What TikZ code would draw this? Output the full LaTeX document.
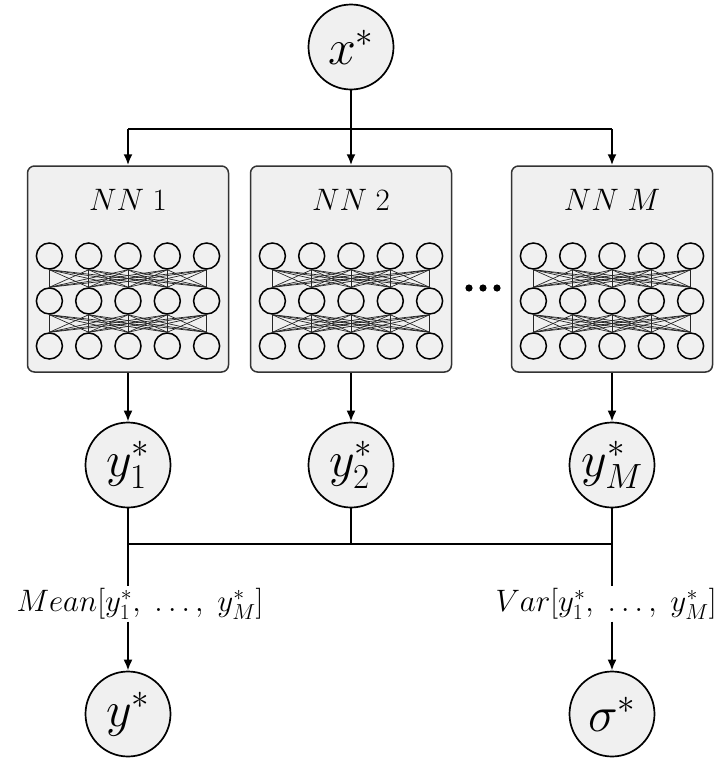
\RequirePackage{fix-cm}
\documentclass[tikz,border=0pt]{standalone}
\usetikzlibrary{arrows.meta}
\definecolor{boxfill}{HTML}{F0F0F0}
\definecolor{boxedge}{HTML}{333333}
\begin{document}
\begin{tikzpicture}[x=1pt,y=-1pt,
  var/.style={circle,draw=black,line width=1.7pt,fill=boxfill,minimum size=85pt,inner sep=0pt,
              font=\fontsize{50}{50}\selectfont},
  netbox/.style={draw=boxedge,line width=1.5pt,fill=boxfill,rounded corners=7pt,
                 minimum width=201pt,minimum height=206pt,inner sep=0pt},
  neuron/.style={circle,draw=black,line width=1.5pt,fill=boxfill,minimum size=26pt,inner sep=0pt},
  link/.style={line width=0.7pt,black!85},
  conn/.style={line width=2pt},
  arr/.style={conn,-{Latex[length=11pt,width=9pt]}},
  lbl/.style={font=\fontsize{31}{31}\selectfont,inner sep=2pt},
  nettitle/.style={font=\fontsize{31}{31}\selectfont,inner sep=0pt}
]
\useasboundingbox (0,0) rectangle (726,758);

% input
\node[var] (x) at (351,47) {$x^*$};

% the ensemble members
\foreach \b/\cx/\t in {1/128/1, 2/351/2, 3/612/M} {
  \node[netbox] (box\b) at (\cx,269) {};
  \node[nettitle] (title\b) at (\cx,200) {$NN\;\t$};
  \foreach \r/\ry in {1/256,2/301,3/346}
    \foreach \c in {1,...,5}
      \node[neuron] (n\b-\r-\c) at ({\cx+39.3*(\c-3)},\ry) {};
  \foreach \i in {1,...,5}
    \foreach \j in {1,...,5} {
      \draw[link] (n\b-1-\i.south) -- (n\b-2-\j.north);
      \draw[link] (n\b-2-\i.south) -- (n\b-3-\j.north);
    }
}

% ellipsis between the second and last network
\foreach \d/\dx in {1/469,2/483,3/497}
  \fill (\dx,288) circle (3.6pt) coordinate (dot\d);

% fan-out from the input
\coordinate (split) at (351,129);
\draw[conn] (x.south) -- (split);
\draw[arr] (split) -- (box2.north);
\draw[conn] (box1.north |- split) -- (box3.north |- split);
\draw[arr] (box1.north |- split) -- (box1.north);
\draw[arr] (box3.north |- split) -- (box3.north);

% member predictions
\node[var] (y1) at (128,465) {$y_1^*$};
\node[var] (y2) at (351,465) {$y_2^*$};
\node[var] (yM) at (612,465) {$y_M^*$};
\draw[arr] (box1.south) -- (y1.north);
\draw[arr] (box2.south) -- (y2.north);
\draw[arr] (box3.south) -- (yM.north);

% aggregation
\coordinate (bar) at (351,544);
\draw[conn] (y1.south |- bar) -- (yM.south |- bar);
\draw[conn] (y2.south) -- (bar);

\node[lbl] (mean) at (140,604) {$Mean[y_1^*,\;\ldots,\;y_M^*]$};
\node[lbl] (var) at (606,604) {$Var[y_1^*,\;\ldots,\;y_M^*]$};

\node[var] (yhat) at (128,714) {$y^*$};
\node[var] (sig) at (612,714) {$\sigma^*$};

\draw[conn] (y1.south) -- (y1.south |- mean.north);
\draw[conn] (yM.south) -- (yM.south |- var.north);
\draw[arr] (yhat.north |- mean.south) -- (yhat.north);
\draw[arr] (sig.north |- var.south) -- (sig.north);
\end{tikzpicture}
\end{document}
